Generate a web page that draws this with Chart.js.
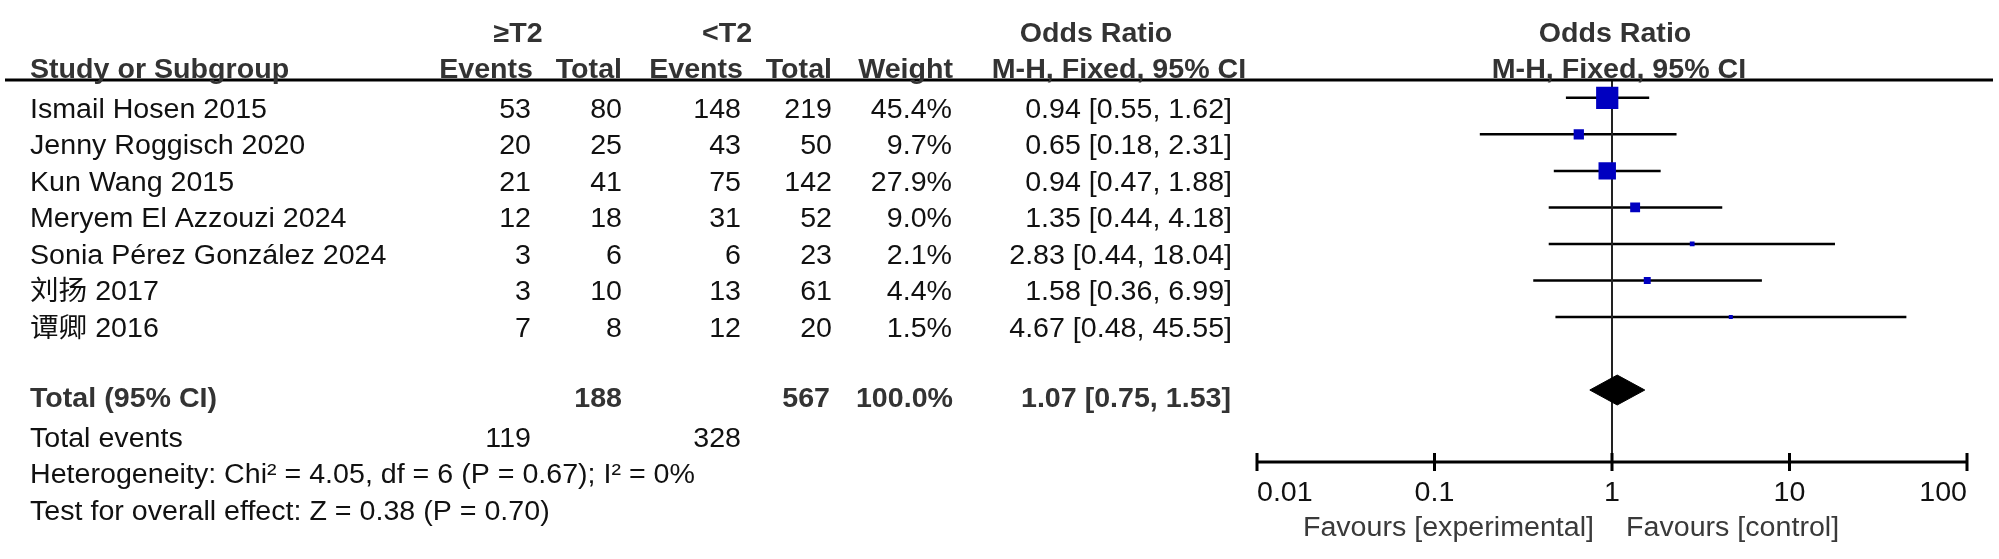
<!DOCTYPE html>
<html>
<head>
<meta charset="utf-8">
<script src="https://cdn.jsdelivr.net/npm/chart.js@4.4.1/dist/chart.umd.min.js"></script>
<style>
  html, body { margin: 0; padding: 0; background: #fff; }
  #wrap { width: 1999px; height: 559px; position: relative; }
</style>
</head>
<body>
<div id="wrap"><canvas id="forest"></canvas></div>
<script>
// study data
const studyNames = ['Ismail Hosen 2015', 'Jenny Roggisch 2020', 'Kun Wang 2015', 'Meryem El Azzouzi 2024',
  'Sonia Pérez González 2024', '刘扬 2017', '谭卿 2016'];
const expEvents = [53, 20, 21, 12, 3, 3, 7];
const expTotal = [80, 25, 41, 18, 6, 10, 8];
const ctlEvents = [148, 43, 75, 31, 6, 13, 12];
const ctlTotal = [219, 50, 142, 52, 23, 61, 20];
const weights = [45.4, 9.7, 27.9, 9.0, 2.1, 4.4, 1.5];
const oddsRatio = [0.94, 0.65, 0.94, 1.35, 2.83, 1.58, 4.67];
const ciLower = [0.55, 0.18, 0.47, 0.44, 0.44, 0.36, 0.48];
const ciUpper = [1.62, 2.31, 1.88, 4.18, 18.04, 6.99, 45.55];

const pooled = [1.07, 0.75, 1.53];           // OR, lower, upper
const totals = [188, 567, 100.0];             // exp total, ctl total, weight
const totalEvents = [119, 328];
const heterogeneity = 'Heterogeneity: Chi² = 4.05, df = 6 (P = 0.67); I² = 0%';
const overallTest = 'Test for overall effect: Z = 0.38 (P = 0.70)';

const tickValues = [0.01, 0.1, 1, 10, 100];
const tickLabels = ['0.01', '0.1', '1', '10', '100'];

// layout (row units on the y scale)
const TOTAL_ROW = 8;
const AXIS_ROW = 9.97;
const RULE_ROW = -0.49;
const FS = 27;
const SX = 1.06;
const FONT = '"Liberation Sans", Arial, "Noto Sans CJK SC", sans-serif';

function txt(ctx, s, x, y, align, bold, color) {
  ctx.save();
  ctx.font = (bold ? 'bold ' : '') + FS + 'px ' + FONT;
  ctx.fillStyle = color || '#111';
  ctx.textAlign = align;
  ctx.textBaseline = 'alphabetic';
  ctx.translate(x, y);
  ctx.scale(SX, 1);
  ctx.fillText(s, 0, 0);
  ctx.restore();
}

const fmt = v => v.toFixed(2);

const tablePlugin = {
  id: 'forestTable',
  afterDraw(chart) {
    const ctx = chart.ctx;
    const xs = chart.scales.x, ys = chart.scales.y;
    const base = r => ys.getPixelForValue(r) + 20;

    // header rule
    const ry = ys.getPixelForValue(RULE_ROW);
    ctx.save();
    ctx.strokeStyle = '#000';
    ctx.lineWidth = 3;
    ctx.beginPath(); ctx.moveTo(5, ry); ctx.lineTo(1993, ry); ctx.stroke();

    // x axis with ticks
    const ay = ys.getPixelForValue(AXIS_ROW);
    ctx.beginPath();
    ctx.moveTo(xs.getPixelForValue(tickValues[0]), ay);
    ctx.lineTo(xs.getPixelForValue(tickValues[tickValues.length - 1]), ay);
    tickValues.forEach(v => {
      const px = xs.getPixelForValue(v);
      ctx.moveTo(px, ay - 9); ctx.lineTo(px, ay + 9);
    });
    ctx.stroke();
    ctx.restore();

    tickValues.forEach((v, i) => {
      const align = i === 0 ? 'left' : (i === tickValues.length - 1 ? 'right' : 'center');
      txt(ctx, tickLabels[i], xs.getPixelForValue(v), ay + 39, align, false, '#111');
    });
    const one = xs.getPixelForValue(1);
    txt(ctx, 'Favours [experimental]', one - 18, ay + 74, 'right', false, '#3a3a3a');
    txt(ctx, 'Favours [control]', one + 14, ay + 74, 'left', false, '#3a3a3a');

    // column headers
    const h1 = base(-2.08), h2 = base(-1.08), hc = '#333';
    txt(ctx, '≥T2', 518, h1, 'center', true, hc);
    txt(ctx, '<T2', 727, h1, 'center', true, hc);
    txt(ctx, 'Odds Ratio', 1096, h1, 'center', true, hc);
    txt(ctx, 'Odds Ratio', 1615, h1, 'center', true, hc);
    txt(ctx, 'Study or Subgroup', 30, h2, 'left', true, hc);
    txt(ctx, 'Events', 533, h2, 'right', true, hc);
    txt(ctx, 'Total', 622, h2, 'right', true, hc);
    txt(ctx, 'Events', 743, h2, 'right', true, hc);
    txt(ctx, 'Total', 832, h2, 'right', true, hc);
    txt(ctx, 'Weight', 953, h2, 'right', true, hc);
    txt(ctx, 'M-H, Fixed, 95% CI', 1119, h2, 'center', true, hc);
    txt(ctx, 'M-H, Fixed, 95% CI', 1619, h2, 'center', true, hc);

    // study rows
    studyNames.forEach((name, i) => {
      const y = base(i);
      txt(ctx, name, 30, y, 'left');
      txt(ctx, String(expEvents[i]), 531, y, 'right');
      txt(ctx, String(expTotal[i]), 622, y, 'right');
      txt(ctx, String(ctlEvents[i]), 741, y, 'right');
      txt(ctx, String(ctlTotal[i]), 832, y, 'right');
      txt(ctx, weights[i].toFixed(1) + '%', 952, y, 'right');
      txt(ctx, fmt(oddsRatio[i]) + ' [' + fmt(ciLower[i]) + ', ' + fmt(ciUpper[i]) + ']', 1232, y, 'right');
    });

    // totals
    const ty = base(TOTAL_ROW - 0.09);
    txt(ctx, 'Total (95% CI)', 30, ty, 'left', true, hc);
    txt(ctx, String(totals[0]), 622, ty, 'right', true, hc);
    txt(ctx, String(totals[1]), 830, ty, 'right', true, hc);
    txt(ctx, totals[2].toFixed(1) + '%', 953, ty, 'right', true, hc);
    txt(ctx, fmt(pooled[0]) + ' [' + fmt(pooled[1]) + ', ' + fmt(pooled[2]) + ']', 1231, ty, 'right', true, hc);

    txt(ctx, 'Total events', 30, base(9), 'left');
    txt(ctx, String(totalEvents[0]), 531, base(9), 'right');
    txt(ctx, String(totalEvents[1]), 741, base(9), 'right');
    txt(ctx, heterogeneity, 30, base(10), 'left');
    txt(ctx, overallTest, 30, base(11), 'left');
  }
};

const datasets = [];
// weighted squares (drawn on top)
datasets.push({
  data: oddsRatio.map((v, i) => ({ x: v, y: i })),
  showLine: false,
  pointStyle: 'rect',
  pointRadius: c => 3.3 * Math.sqrt(weights[c.dataIndex]) / Math.SQRT2,
  pointBackgroundColor: '#0000c0',
  pointBorderWidth: 0,
  borderWidth: 0
});
// pooled diamond
datasets.push({
  data: [
    { x: pooled[1], y: TOTAL_ROW },
    { x: pooled[0], y: TOTAL_ROW - 0.41 },
    { x: pooled[2], y: TOTAL_ROW },
    { x: pooled[0], y: TOTAL_ROW + 0.41 },
    { x: pooled[1], y: TOTAL_ROW }
  ],
  borderColor: '#000',
  borderWidth: 1,
  backgroundColor: '#000',
  fill: 'shape',
  pointRadius: 0,
  tension: 0
});
// line of no effect
datasets.push({
  data: [{ x: 1, y: RULE_ROW }, { x: 1, y: AXIS_ROW }],
  borderColor: '#222',
  borderWidth: 2,
  pointRadius: 0
});
// confidence intervals
studyNames.forEach((n, i) => {
  datasets.push({
    data: [{ x: ciLower[i], y: i }, { x: ciUpper[i], y: i }],
    borderColor: '#000',
    borderWidth: 2.5,
    pointRadius: 0
  });
});

new Chart(document.getElementById('forest').getContext('2d'), {
  type: 'line',
  data: { datasets: datasets },
  options: {
    responsive: true,
    maintainAspectRatio: false,
    animation: false,
    events: [],
    layout: { padding: { left: 1257, right: 32, top: 0, bottom: 0 } },
    scales: {
      x: { type: 'logarithmic', min: 0.01, max: 100, display: false },
      y: { type: 'linear', reverse: true, min: -2.248, max: 12.196, display: false }
    },
    plugins: {
      legend: { display: false },
      tooltip: { enabled: false }
    }
  },
  plugins: [tablePlugin]
});
</script>
</body>
</html>
